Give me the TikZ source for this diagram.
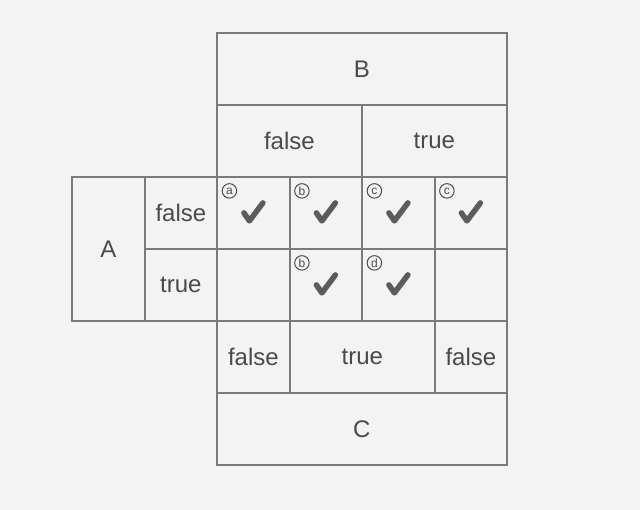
\documentclass[tikz,border=0pt]{standalone}
\usepackage{fontspec}
\setmainfont{Liberation Sans}
\definecolor{linegray}{HTML}{7A7A7A}
\definecolor{txtgray}{HTML}{4A4A4A}
\definecolor{bggray}{HTML}{F3F3F3}
\begin{document}
\begin{tikzpicture}[x=1pt,y=-1pt,
  cellbox/.style 2 args={draw=linegray, line width=1.8pt, minimum width=#1pt, minimum height=#2pt,
     inner sep=0pt, anchor=north west, text=txtgray, font=\fontsize{24}{24}\selectfont},
  chk/.style={draw=txtgray!90, line width=5.5pt, line cap=round, line join=round},
  circ/.style={circle, draw=txtgray, line width=1pt, minimum size=14.5pt, inner sep=0pt,
     text=txtgray, font=\fontsize{12}{12}\selectfont}]
\fill[bggray] (0,0) rectangle (640,510);
\useasboundingbox (0,0) rectangle (640,510);
% header
\node[cellbox={290}{72}] (B) at (216,32) {B};
\node[cellbox={145}{72}] (bf) at (216,104) {false};
\node[cellbox={145}{72}] (bt) at (361,104) {true};
% A side
\node[cellbox={73}{144}] (A) at (71,176) {A};
\node[cellbox={72}{72}] (af) at (144,176) {false};
\node[cellbox={72}{72}] (atr) at (144,248) {true};
% body cells
\node[cellbox={73}{72}] (c11) at (216,176) {};
\node[cellbox={72}{72}] (c12) at (289,176) {};
\node[cellbox={73}{72}] (c13) at (361,176) {};
\node[cellbox={72}{72}] (c14) at (434,176) {};
\node[cellbox={73}{72}] (c21) at (216,248) {};
\node[cellbox={72}{72}] (c22) at (289,248) {};
\node[cellbox={73}{72}] (c23) at (361,248) {};
\node[cellbox={72}{72}] (c24) at (434,248) {};
% C side
\node[cellbox={73}{72}] (cf) at (216,320) {false};
\node[cellbox={145}{72}] (ct) at (289,320) {true};
\node[cellbox={72}{72}] (cf2) at (434,320) {false};
\node[cellbox={290}{72}] (C) at (216,392) {C};
% checks and labels
\foreach \c/\l in {c11/a, c12/b, c13/c, c14/c, c22/b, c23/d}{
  \draw[chk] ([shift={(-9.5,0)}]\c.center) -- ++(5.5,8) -- ++(13.5,-18);
  \node[circ] (lab-\c) at ([shift={(-24,-22)}]\c.center) {\l};
}
\end{tikzpicture}
\end{document}
